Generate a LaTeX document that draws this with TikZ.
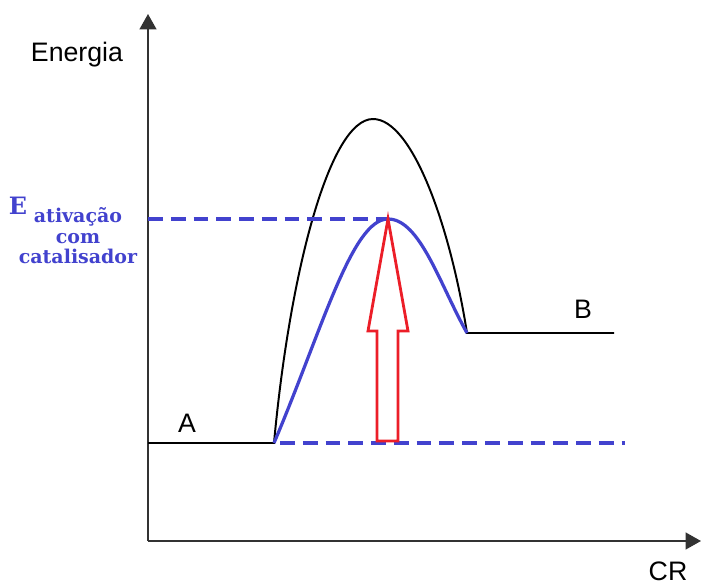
\documentclass[tikz,border=0pt]{standalone}
\usepackage{fontspec}
\setmainfont{Liberation Sans}
\newfontfamily\slabfont{DejaVu Serif}
\usetikzlibrary{arrows.meta}
\definecolor{catblue}{RGB}{66,66,206}
\definecolor{arrred}{RGB}{236,30,40}
\definecolor{axgray}{RGB}{50,50,50}
\begin{document}
\begin{tikzpicture}[x=0.025cm, y=-0.025cm, font=\fontsize{19}{22}\selectfont,
  axis/.style={draw=axgray, line width=1.4pt, -{Triangle[length=11pt, width=12pt]}},
  lvl/.style={line width=1.4pt},
  cat/.style={draw=catblue, line width=2.3pt},
  guide/.style={cat, dash pattern=on 10.5pt off 5.7pt},
  lbl/.style={inner sep=0pt},
  ealbl/.style={inner sep=0pt, text=catblue, font=\slabfont\bfseries}]
  \useasboundingbox (0,0) rectangle (704,584);
  % axes
  \coordinate (o)    at (148,541);
  \coordinate (ytop) at (148,14);
  \coordinate (xend) at (701,541);
  \draw[axis] (o) -- (ytop);
  \draw[axis] (o) -- (xend);
  \node[lbl] (en) at (77,55) {Energia};
  \node[lbl] (cr) at (668,571) {CR};
  % levels and path without catalyst
  \coordinate (a0) at (148,443);
  \coordinate (a1) at (274,443);
  \coordinate (pk) at (373,119);
  \coordinate (b0) at (467,333);
  \coordinate (b1) at (614,333);
  \draw[lvl] (a0) -- (a1)
    .. controls (290,270) and (330,119) .. (pk)
    .. controls (412,119) and (450,225) .. (b0) -- (b1);
  \node[lbl] (la) at (187,423) {A};
  \node[lbl] (lb) at (583,309) {B};
  % path with catalyst
  \coordinate (cpk)  at (388,219);
  \coordinate (eax)  at (148,219);
  \coordinate (d0)   at (280,443);
  \coordinate (dend) at (625,443);
  \draw[cat] (a1) .. controls (322,330) and (352,219) .. (cpk)
    .. controls (420,219) and (440,285) .. (b0);
  \draw[guide] (eax) -- (cpk);
  \draw[guide] (d0) -- (dend);
  \node[ealbl, font=\slabfont\bfseries\fontsize{17}{18}\selectfont] (ee) at (18,206) {E};
  \node[ealbl, align=center, font=\slabfont\bfseries\fontsize{13.5}{14.5}\selectfont] (ea) at (78,236)
      {ativação\\com\\catalisador};
  % activation energy
  \draw[arrred, line width=2pt, line join=miter]
    (377,441) -- (398,441) -- (398,331) -- (408,331) -- (cpk) -- (368,331) -- (377,331) -- cycle;
\end{tikzpicture}
\end{document}
